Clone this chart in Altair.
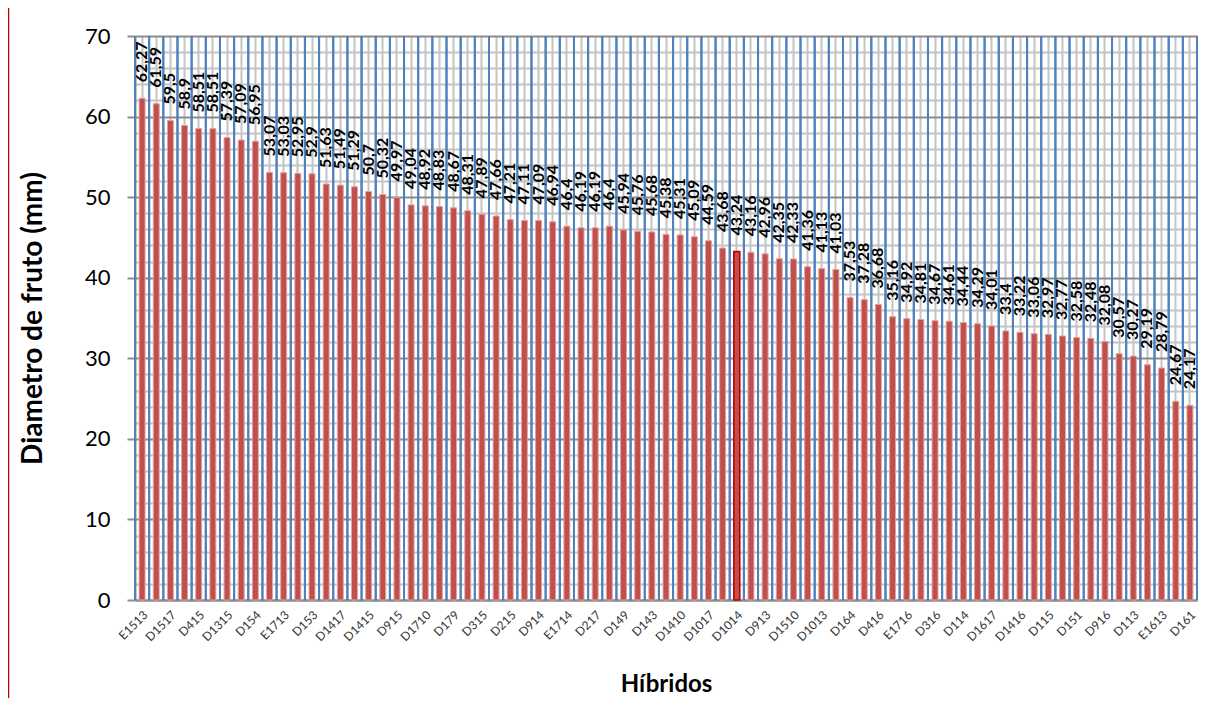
import json
import altair as alt
import pandas as pd

values = [62.27, 61.59, 59.5, 58.9, 58.51, 58.51, 57.39, 57.09, 56.95, 53.07,
          53.03, 52.95, 52.9, 51.63, 51.49, 51.29, 50.7, 50.32, 49.97, 49.04,
          48.92, 48.83, 48.67, 48.31, 47.89, 47.66, 47.21, 47.11, 47.09, 46.94,
          46.4, 46.19, 46.19, 46.4, 45.94, 45.76, 45.68, 45.38, 45.31, 45.09,
          44.59, 43.68, 43.24, 43.16, 42.96, 42.35, 42.33, 41.36, 41.13, 41.03,
          37.53, 37.28, 36.68, 35.16, 34.92, 34.81, 34.67, 34.61, 34.44, 34.29,
          34.01, 33.4, 33.22, 33.06, 32.97, 32.77, 32.58, 32.48, 32.08, 30.57,
          30.27, 29.19, 28.79, 24.67, 24.17]

# tick labels shown on every other bar
tick_names = ["E1513", "D1517", "D415", "D1315", "D154", "E1713", "D153", "D1417",
              "D1415", "D915", "D1710", "D179", "D315", "D215", "D914", "E1714",
              "D217", "D149", "D143", "D1410", "D1017", "D1014", "D913", "D1510",
              "D1013", "D164", "D416", "E1716", "D316", "D114", "D1617", "D1416",
              "D115", "D151", "D916", "D113", "E1613", "D161"]
highlight = "D1014"

names = [tick_names[i // 2] if i % 2 == 0 else "" for i in range(len(values))]
df = pd.DataFrame({"idx": list(range(len(values))), "v": values, "name": names})
df["hl"] = df["name"] == highlight

W, H = 1062, 564
FONT = "Lato"

x_scale = alt.Scale(paddingInner=0, paddingOuter=0)
x_axis = alt.Axis(
    labelExpr=json.dumps(names) + "[datum.value]",
    labelAngle=-45, labelFont=FONT, labelFontSize=12, labelColor="#333333",
    labelPadding=9, labelOverlap=False, ticks=False,
    grid=True, gridColor="#C4C4C4", gridWidth=2,
    domainColor="#8C8C8C", domainWidth=2,
    title="Híbridos", titleFont=FONT, titleFontSize=24, titleFontWeight="bold",
    titleColor="black", titleY=84, titleBaseline="middle",
)
y_scale = alt.Scale(domain=[0, 70], nice=False)
y_axis = alt.Axis(
    values=list(range(0, 71, 2)),
    labelExpr="datum.value % 10 == 0 ? datum.value : ''",
    labelFont=FONT, labelFontSize=22, labelColor="black", labelPadding=17,
    labelOverlap=False, labelFlush=False,
    tickSize=8, tickColor="#8C8C8C", tickWidth=2,
    tickOpacity={"condition": {"test": "datum.value % 10 == 0", "value": 1}, "value": 0},
    grid=True,
    gridColor={"condition": {"test": "datum.value % 10 == 0", "value": "#8C8C8C"}, "value": "#C4C4C4"},
    gridWidth=2,
    domainColor="#8C8C8C", domainWidth=2,
    title="Diametro de fruto (mm)", titleFont=FONT, titleFontSize=28,
    titleFontWeight="bold", titleColor="black", titleX=-102, titleAngle=270,
    titleBaseline="middle", titleAlign="center",
)

base = alt.Chart(df)

blue_left = base.mark_rule(color="#4F81BD", strokeWidth=2).encode(
    x=alt.X("idx:O", bandPosition=0, scale=x_scale, axis=x_axis, title="Híbridos")
)
blue_right = base.mark_rule(color="#4F81BD", strokeWidth=2).encode(
    x=alt.X("idx:O", bandPosition=1, scale=x_scale, axis=x_axis, title="Híbridos")
)

bars = base.mark_bar(width=alt.RelativeBandSize(0.42), color="#C0504D").encode(
    x=alt.X("idx:O", scale=x_scale, axis=x_axis, title="Híbridos"),
    y=alt.Y("v:Q", scale=y_scale, axis=y_axis, title="Diametro de fruto (mm)"),
    stroke=alt.condition("datum.hl", alt.value("#C00000"), alt.value("#DFA3A1")),
    strokeWidth=alt.condition("datum.hl", alt.value(1.6), alt.value(1)),
)

labels = base.transform_calculate(
    label="replace(toString(datum.v), '.', ',')"
).mark_text(
    angle=270, align="left", baseline="middle", dx=16,
    font=FONT, fontSize=16, fontWeight="bold", color="black",
).encode(
    x=alt.X("idx:O", scale=x_scale, axis=x_axis, title="Híbridos"),
    y=alt.Y("v:Q", scale=y_scale, axis=y_axis, title="Diametro de fruto (mm)"),
    text="label:N",
)

border = base.mark_rule(color="#C00000", strokeWidth=1.5).encode(
    x=alt.value(-126.5), y=alt.value(-28), y2=alt.value(662)
).transform_filter("datum.idx == 0")

chart = alt.layer(blue_left, blue_right, bars, labels, border).properties(
    width=W, height=H,
    autosize=alt.AutoSizeParams(type="none"),
    padding={"left": 127, "top": 28, "right": 12, "bottom": 98},
).configure_view(strokeWidth=0)

chart.save("out.html", embed_options={"renderer": "svg", "actions": False})
